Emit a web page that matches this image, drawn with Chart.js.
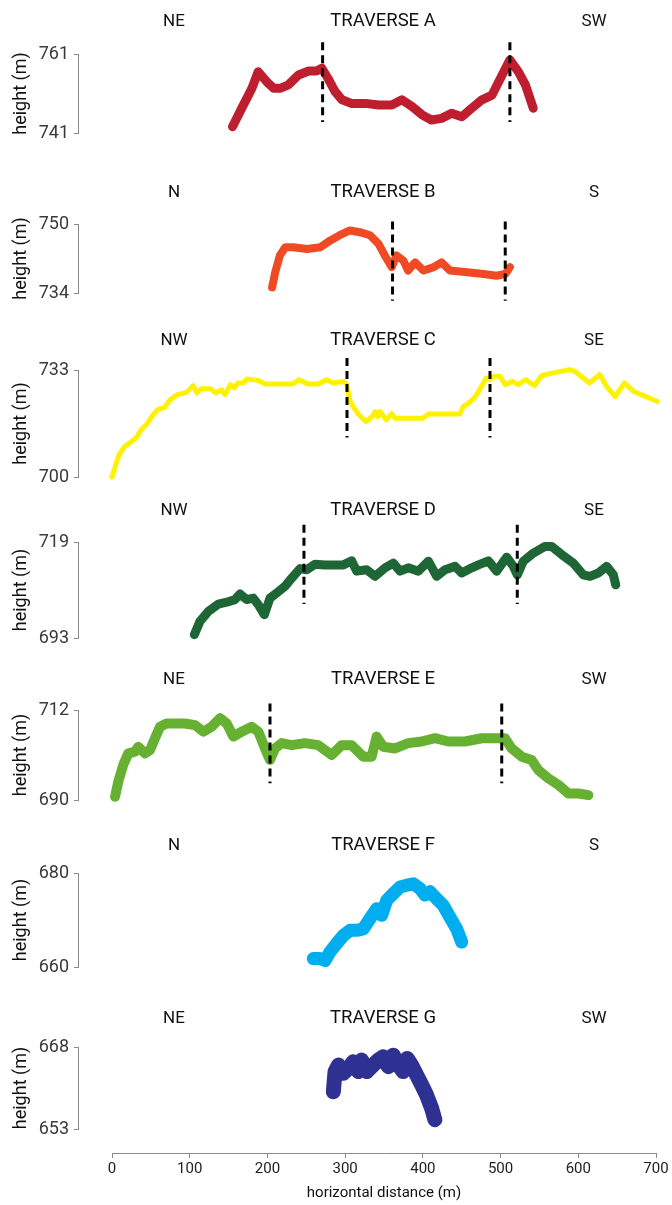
<!DOCTYPE html>
<html>
<head>
<meta charset="utf-8">
<script src="https://cdn.jsdelivr.net/npm/chart.js@4/dist/chart.umd.min.js"></script>
<style>
  html, body { margin: 0; padding: 0; background: #fff; }
  #wrap { position: relative; width: 672px; height: 1205px; overflow: hidden; }
  #wrap canvas { position: absolute; left: 0; top: 0; }
  .lbl { position: absolute; transform: translate(-50%, -50%); white-space: nowrap; font-family: Roboto, "Noto Sans", sans-serif; color: #111; }
</style>
</head>
<body>
<div id="wrap"></div>
<script>
// ---------------- DATA ----------------
const xTicks = [0, 100, 200, 300, 400, 500, 600, 700];
const panelTitles = ['TRAVERSE A', 'TRAVERSE B', 'TRAVERSE C', 'TRAVERSE D', 'TRAVERSE E', 'TRAVERSE F', 'TRAVERSE G'];
const leftDirections = ['NE', 'N', 'NW', 'NW', 'NE', 'N', 'NE'];
const rightDirections = ['SW', 'S', 'SE', 'SE', 'SW', 'S', 'SW'];

// Traverse A
const aTicks = [741, 761];
const aDist = [155,167,180,188,199,208,216,227,240,253,263,270,278,287,296,308,326,343,360,373,386,399,411,424,437,450,463,476,489,502,512,523,532,542];
const aHeight = [742.6,747.3,752.3,756.5,754,752.3,752.3,753.2,755.7,756.7,756.7,757.4,754.8,751.5,749.4,748.5,748.5,748.1,748.1,749.4,747.7,745.6,744.3,744.7,746,745.1,747.3,749.4,750.6,755.7,759.5,756.5,753.2,747.3];
const aDashDist = [271, 512];
const aDashHeight = [764, 743.8];

// Traverse B
const bTicks = [734, 750];
const bDist = [206,210,216,223,233,251,268,281,293,306,319,332,343,351,360,366,375,381,390,401,414,424,435,457,478,495,506,512];
const bHeight = [735.3,738.8,742.7,744.6,744.6,744.2,744.6,746.2,747.4,748.5,748.1,747.4,745.4,742.7,740,742.7,741.5,739.2,741.1,739.2,740,741.1,739.2,738.8,738.4,738,738.4,740];
const bDashDist = [361, 506];
const bDashHeight = [750.6, 732.2];

// Traverse C
const cTicks = [700, 733];
const cDist = [0,4,8.7,15.8,25.2,32.3,37.1,44.1,51.2,58.3,67.7,74.8,84.2,96,104.5,109.2,114.8,126.6,133.7,140.8,145.4,152.5,157.3,161.9,169,173.7,187.9,197.3,232.6,241.1,251.5,265.6,276,284.5,297.7,302.4,305.7,310.4,317.5,326.9,335.4,338.7,342,344.9,352.9,360,364.7,400,407.1,447.2,451.9,459,466.1,473.1,481.6,486.4,492,499,506.1,515.5,522.5,532,543.8,553.2,567.4,588.6,595.6,614.4,627.6,635.7,647.5,659.3,671.1,701.8,708.8];
const cHeight = [700,703.1,706.7,709.3,710.9,712.4,714.5,716.1,718.6,720.7,721.5,723.8,725.4,726.1,728.2,725.9,727.2,727.2,725.9,726.9,725.4,728.5,727.5,729,729,730.2,729.8,728.7,728.7,730,728.7,728.7,730,729,729.5,728.5,723.8,721.7,719.2,717.1,718.8,720.2,718.6,720.2,717.6,719.5,718.1,718.1,719.4,719.4,721.7,722.8,724.3,726.9,730.5,730,731.1,731.1,728.5,729.5,728.5,730,728.2,731.3,732.1,733.1,732.6,729,731.6,728.2,724.8,729,726.4,723.3,720.7];
const cDashDist = [302.4, 486.4];
const cDashHeight = [736.7, 712.2];

// Traverse D
const dTicks = [693, 719];
const dDist = [105.9,113.2,124,136.8,147.6,158.3,164.7,173.3,181.8,188.3,196,203.3,211.9,222.6,231.2,241.9,250.5,261.2,274.1,287,297.7,308.4,314.8,327.7,338.4,351.3,362,370.6,381.3,394.2,407.1,417.8,428.5,441.4,450,462.9,471.5,484.3,495,507.9,516.5,521.5,529.3,542.2,557.2,565.8,578.7,593.6,606.5,615.1,625.8,636.6,645.1,648.2];
const dHeight = [693.9,697.5,700.2,702.2,702.7,703.4,704.9,703.4,703.8,702,699.3,703.8,705.2,707,709.2,711.8,711.5,713,712.8,712.8,712.8,713.9,711.1,711.5,709.7,712,713.3,711.1,712,711.1,713.8,709.7,711.5,712.4,710.6,712,712.8,713.9,711.1,714.9,712.4,710.1,713.8,716,717.8,717.8,715.6,713.3,710.1,709.7,710.6,712.4,710.1,707.4];
const dDashDist = [247, 521.5];
const dDashHeight = [723.7, 702.2];

// Traverse E
const eTicks = [690, 712];
const eDist = [3.9,8.1,14.5,21,29.6,33.8,42.5,48.9,55.3,61.8,70.3,81.1,93.9,106.8,117.5,128.2,139,147.6,156.1,166.9,179.7,188.3,196.9,203.3,209.8,218.4,231.2,248.4,265.5,282.7,295.5,308.4,323.3,334.1,340.5,349,364.2,381.2,398.5,415.6,432.7,454.2,475.7,497.1,505.7,514.3,527.2,540,548.6,561.5,574.4,587.2,600.1,613];
const eHeight = [690.8,694.5,698.6,701.4,701.8,703,701.4,702.2,705.1,707.9,708.7,708.7,708.7,708.3,706.7,707.9,710,708.7,705.5,706.7,707.9,706.7,702.6,699.8,702.6,703.9,703.4,703.9,703.4,701,703.4,703.4,700.6,700.6,705.5,703,702.6,703.9,704.3,705.1,704.3,704.3,705.1,705.1,705.1,702.6,700.6,699.8,697.3,695.3,693.7,691.6,691.6,691.2];
const eDashDist = [203.3, 501.5];
const eDashHeight = [713.6, 694.1];

// Traverse F
const fTicks = [660, 680];
const fDist = [259,267.7,274.1,280.5,289.1,297.7,306.3,314.9,323.3,332,340.6,347,353.5,361.9,370.6,379.2,387.7,396.3,402.8,409.2,417.8,426.3,434.9,443.6,450];
const fHeight = [661.8,661.8,661.4,663.2,665,666.7,667.8,667.8,668.1,670.3,672.4,671,674.2,675.6,677,677.4,677.7,676.7,675.3,676,674.5,673.1,670.6,668.1,665.3];

// Traverse G
const gTicks = [653, 668];
const gDist = [284.8,287,291.3,297.7,304.1,310.5,317,321.3,327.7,334.1,342.6,349,355.5,361.9,368.3,374.7,379.9,385.5,391.9,398.4,404.8,411.3,415.5];
const gHeight = [659.8,663.5,664.7,663.2,664.1,665.3,663.5,665.6,663.5,664.4,665.6,666.2,664.4,666.5,664.7,663.5,665.9,664.7,662.9,661.1,659.2,656.8,654.7];

// ---------------- LAYOUT / STYLE ----------------
const W = 672, H = 1205;
const FONT = 'Roboto, "Noto Sans", sans-serif';
const panels = [
  {dist: aDist, h: aHeight, ticks: aTicks, dd: aDashDist, dh: aDashHeight, color: '#BE1E2D', lw: 9,  top: 54,  bot: 133},
  {dist: bDist, h: bHeight, ticks: bTicks, dd: bDashDist, dh: bDashHeight, color: '#F04A24', lw: 8,  top: 224, bot: 293},
  {dist: cDist, h: cHeight, ticks: cTicks, dd: cDashDist, dh: cDashHeight, color: '#FFF200', lw: 5,  top: 370, bot: 477},
  {dist: dDist, h: dHeight, ticks: dTicks, dd: dDashDist, dh: dDashHeight, color: '#1F6636', lw: 9,  top: 542, bot: 638},
  {dist: eDist, h: eHeight, ticks: eTicks, dd: eDashDist, dh: eDashHeight, color: '#66B032', lw: 10, top: 710, bot: 800},
  {dist: fDist, h: fHeight, ticks: fTicks, dd: [], dh: [], color: '#00AEEF', lw: 13, top: 873, bot: 967},
  {dist: gDist, h: gHeight, ticks: gTicks, dd: [], dh: [], color: '#2E3192', lw: 15, top: 1047, bot: 1129}
];
const labelY = [20, 191, 339, 509, 678, 844, 1017];
const leftX = 174, centerX = 383, rightX = 594;

const wrap = document.getElementById('wrap');
function newCanvas() {
  const c = document.createElement('canvas');
  c.width = W; c.height = H;
  c.style.width = W + 'px'; c.style.height = H + 'px';
  wrap.appendChild(c);
  return c;
}

panels.forEach((p, i) => {
  const datasets = [{
    data: p.dist.map((d, k) => ({x: d, y: p.h[k]})),
    borderColor: p.color, borderWidth: p.lw, pointRadius: 0, tension: 0,
    borderJoinStyle: 'round', borderCapStyle: 'round', clip: false, order: 2, fill: false
  }];
  p.dd.forEach(x => {
    datasets.push({
      data: [{x: x, y: p.dh[0]}, {x: x, y: p.dh[1]}],
      borderColor: '#000', borderWidth: 3, borderDash: [8, 5], pointRadius: 0,
      clip: false, order: 1, fill: false, borderCapStyle: 'butt'
    });
  });
  new Chart(newCanvas(), {
    type: 'line',
    data: {datasets},
    options: {
      responsive: false, animation: false, events: [],
      layout: {padding: {top: p.top, bottom: H - p.bot, left: 0, right: 16}},
      plugins: {legend: {display: false}, tooltip: {enabled: false}, title: {display: false}},
      scales: {
        x: {type: 'linear', min: 0, max: 700, display: false},
        y: {
          type: 'linear', position: 'left', weight: 2,
          min: p.ticks[0], max: p.ticks[1],
          afterBuildTicks: s => { s.ticks = [{value: p.ticks[0]}, {value: p.ticks[1]}]; },
          afterFit: s => { s.width = 78; },
          ticks: {font: {family: FONT, size: 18}, color: '#3a3a3a', padding: 5, callback: v => String(v)},
          grid: {drawOnChartArea: false, drawTicks: true, tickLength: 4, color: '#8a8a8a', lineWidth: 1},
          border: {display: true, color: '#8a8a8a', width: 1},
          title: {display: true, text: 'height (m)', font: {family: FONT, size: 18}, color: '#111', padding: {top: 11, bottom: 0}}
        },
        y2: {
          type: 'linear', position: 'left', weight: 1, min: 0, max: 1, display: true,
          ticks: {display: false}, grid: {display: false}, border: {display: false},
          afterFit: s => { s.width = 34; }
        }
      }
    }
  });
});

// bottom x axis
new Chart(newCanvas(), {
  type: 'line',
  data: {datasets: []},
  options: {
    responsive: false, animation: false, events: [],
    layout: {padding: {top: 1100, bottom: 0, left: 112, right: 16}},
    plugins: {legend: {display: false}, tooltip: {enabled: false}},
    scales: {
      x: {
        type: 'linear', position: 'bottom', min: 0, max: 700,
        afterBuildTicks: s => { s.ticks = xTicks.map(v => ({value: v})); },
        afterFit: s => { s.height = 52; },
        ticks: {font: {family: FONT, size: 15}, color: '#222', padding: 2, maxRotation: 0, autoSkip: false},
        grid: {drawOnChartArea: false, drawTicks: true, tickLength: 5, color: '#8a8a8a'},
        border: {display: true, color: '#8a8a8a', width: 1},
        title: {display: true, text: 'horizontal distance (m)', font: {family: FONT, size: 15}, color: '#111', padding: {top: 0, bottom: 3}}
      },
      y: {display: false, min: 0, max: 1}
    }
  }
});

// panel titles and direction labels (real text)
function addLabel(text, x, y, size) {
  const d = document.createElement('div');
  d.className = 'lbl';
  d.textContent = text;
  d.style.left = x + 'px';
  d.style.top = y + 'px';
  d.style.fontSize = size + 'px';
  wrap.appendChild(d);
}
panelTitles.forEach((t, i) => {
  addLabel(leftDirections[i], leftX, labelY[i], 17);
  addLabel(t, centerX, labelY[i], 18.5);
  addLabel(rightDirections[i], rightX, labelY[i], 17);
});
</script>
</body>
</html>
